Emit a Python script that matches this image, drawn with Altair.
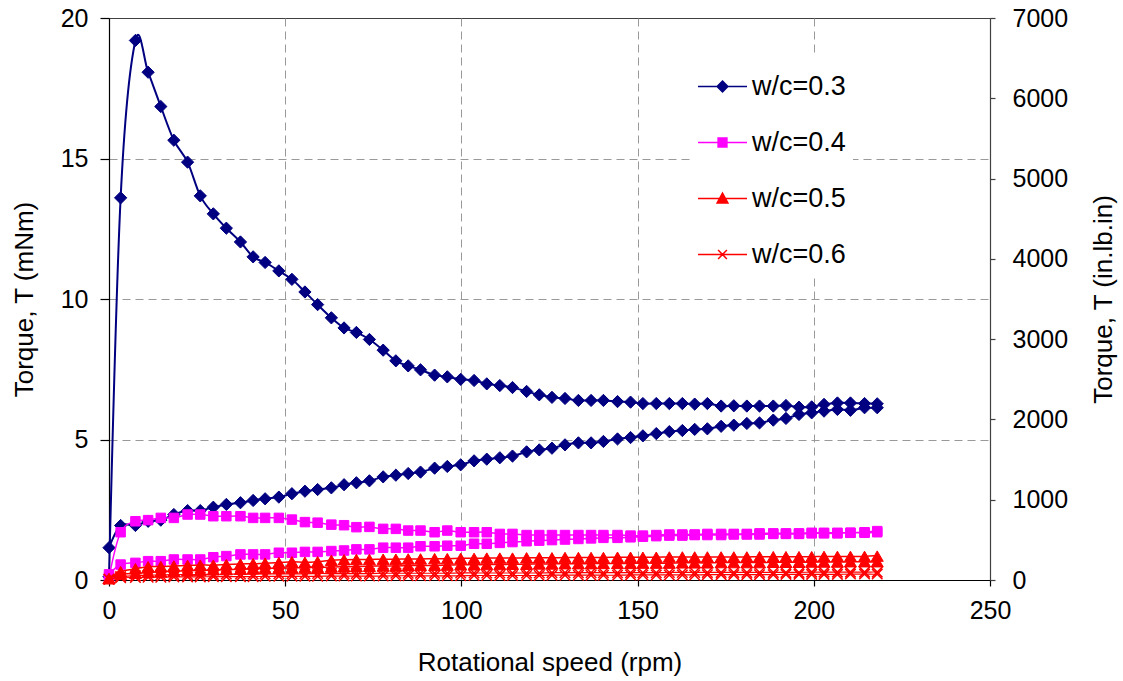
import altair as alt
import pandas as pd

# ---------------- data ----------------
speeds = [0, 3.3, 7.5, 11.1, 14.7, 18.4, 22.3, 25.9, 29.6, 33.3,
          37.3, 40.9, 44.3, 48.2, 51.9, 55.6, 59.2, 63.1, 66.7, 70.2,
          73.9, 77.8, 81.4, 84.9, 88.4, 92.4, 96.0, 99.8, 103.6, 107.2,
          110.9, 114.5, 118.5, 122.1, 125.7, 129.4, 133.2, 136.8, 140.3, 144.3,
          148.0, 151.5, 155.3, 159.0, 162.7, 166.2, 169.8, 173.7, 177.3, 181.0,
          184.6, 188.5, 192.1, 195.8, 199.4, 202.9, 206.7, 210.4, 214.4, 218.0]

# ascending-speed branch (first part of each loop)
wc03_up = [0.12, 13.6, 19.2, 18.07, 16.85, 15.65, 14.87, 13.67, 13.03, 12.52,
           12.03, 11.5, 11.3, 11.0, 10.7, 10.25, 9.8, 9.33, 8.97, 8.81,
           8.56, 8.18, 7.80, 7.62, 7.48, 7.29, 7.23, 7.14, 7.10, 6.98,
           6.92, 6.85, 6.71, 6.59, 6.50, 6.46, 6.39, 6.39, 6.39, 6.35,
           6.33, 6.28, 6.28, 6.28, 6.28, 6.26, 6.28, 6.19, 6.20, 6.19,
           6.19, 6.19, 6.21, 6.15, 6.16, 6.25, 6.30, 6.30, 6.28, 6.27]
# descending-speed branch, listed here in ascending speed order
wc03_down = [1.15, 1.94, 1.94, 2.09, 2.13, 2.33, 2.47, 2.47, 2.59, 2.69,
             2.75, 2.83, 2.89, 2.95, 3.07, 3.16, 3.22, 3.28, 3.39, 3.46,
             3.53, 3.67, 3.73, 3.79, 3.84, 3.98, 4.04, 4.10, 4.24, 4.30,
             4.35, 4.41, 4.56, 4.63, 4.69, 4.81, 4.88, 4.88, 4.93, 5.02,
             5.07, 5.13, 5.21, 5.28, 5.32, 5.36, 5.38, 5.47, 5.51, 5.57,
             5.59, 5.69, 5.75, 5.89, 5.95, 6.01, 6.07, 6.04, 6.13, 6.13]

wc04_up = [0.10, 1.70, 2.09, 2.13, 2.21, 2.21, 2.33, 2.33, 2.27, 2.27,
           2.27, 2.21, 2.21, 2.21, 2.15, 2.06, 2.04, 1.97, 1.95, 1.88,
           1.89, 1.82, 1.82, 1.76, 1.76, 1.70, 1.76, 1.70, 1.70, 1.70,
           1.64, 1.64, 1.60, 1.60, 1.60, 1.60, 1.60, 1.60, 1.60, 1.60,
           1.58, 1.58, 1.60, 1.62, 1.62, 1.62, 1.64, 1.64, 1.64, 1.64,
           1.66, 1.66, 1.66, 1.66, 1.68, 1.68, 1.68, 1.68, 1.70, 1.74]
wc04_down = [0.20, 0.55, 0.61, 0.67, 0.67, 0.73, 0.73, 0.73, 0.81, 0.85,
             0.91, 0.91, 0.91, 0.97, 0.97, 1.00, 1.00, 1.03, 1.05, 1.09,
             1.09, 1.15, 1.15, 1.15, 1.20, 1.20, 1.22, 1.22, 1.29, 1.29,
             1.32, 1.35, 1.38, 1.40, 1.42, 1.44, 1.46, 1.48, 1.50, 1.50,
             1.52, 1.54, 1.56, 1.58, 1.58, 1.60, 1.60, 1.60, 1.62, 1.62,
             1.62, 1.64, 1.64, 1.64, 1.66, 1.66, 1.66, 1.68, 1.68, 1.70]

wc05_up = [0.05, 0.30, 0.40, 0.47, 0.48, 0.50, 0.52, 0.53, 0.53, 0.55,
           0.57, 0.58, 0.60, 0.62, 0.65, 0.63, 0.65, 0.70, 0.72, 0.73,
           0.73, 0.74, 0.74, 0.75, 0.75, 0.76, 0.76, 0.77, 0.77, 0.78,
           0.78, 0.78, 0.79, 0.79, 0.79, 0.80, 0.80, 0.80, 0.80, 0.81,
           0.81, 0.81, 0.81, 0.82, 0.82, 0.82, 0.82, 0.82, 0.82, 0.82,
           0.83, 0.83, 0.83, 0.83, 0.83, 0.84, 0.84, 0.84, 0.84, 0.85]
wc05_down = [0.05, 0.20, 0.24, 0.27, 0.29, 0.31, 0.33, 0.34, 0.36, 0.37,
             0.38, 0.40, 0.41, 0.42, 0.43, 0.44, 0.45, 0.46, 0.47, 0.48,
             0.49, 0.50, 0.50, 0.51, 0.52, 0.52, 0.53, 0.54, 0.54, 0.55,
             0.55, 0.56, 0.56, 0.57, 0.57, 0.58, 0.58, 0.58, 0.59, 0.59,
             0.59, 0.60, 0.60, 0.60, 0.61, 0.61, 0.61, 0.62, 0.62, 0.62,
             0.62, 0.63, 0.63, 0.63, 0.64, 0.64, 0.64, 0.65, 0.65, 0.65]

wc06_up = [0.03, 0.12, 0.15, 0.17, 0.18, 0.19, 0.19, 0.20, 0.20, 0.21,
           0.21, 0.21, 0.22, 0.22, 0.22, 0.22, 0.23, 0.23, 0.23, 0.23,
           0.23, 0.24, 0.24, 0.24, 0.24, 0.24, 0.24, 0.25, 0.25, 0.25,
           0.25, 0.25, 0.25, 0.25, 0.26, 0.26, 0.26, 0.26, 0.26, 0.26,
           0.26, 0.26, 0.26, 0.27, 0.27, 0.27, 0.27, 0.27, 0.27, 0.27,
           0.27, 0.27, 0.27, 0.27, 0.28, 0.28, 0.28, 0.28, 0.28, 0.28]
wc06_down = [0.03, 0.08, 0.09, 0.10, 0.10, 0.11, 0.11, 0.11, 0.12, 0.12,
             0.12, 0.12, 0.13, 0.13, 0.13, 0.13, 0.13, 0.14, 0.14, 0.14,
             0.14, 0.14, 0.15, 0.15, 0.15, 0.15, 0.15, 0.15, 0.16, 0.16,
             0.16, 0.16, 0.16, 0.16, 0.17, 0.17, 0.17, 0.17, 0.17, 0.17,
             0.18, 0.18, 0.18, 0.18, 0.18, 0.18, 0.19, 0.19, 0.19, 0.19,
             0.19, 0.19, 0.20, 0.20, 0.20, 0.20, 0.20, 0.21, 0.21, 0.21]

series_names = ["w/c=0.3", "w/c=0.4", "w/c=0.5", "w/c=0.6"]
series_up = [wc03_up, wc04_up, wc05_up, wc06_up]
series_down = [wc03_down, wc04_down, wc05_down, wc06_down]
colors = ["#000080", "#FF00FF", "#FF0000", "#FF0000"]

x_ticks = [0, 50, 100, 150, 200, 250]
left_ticks = [0, 5, 10, 15, 20]
right_ticks = [0, 1000, 2000, 3000, 4000, 5000, 6000, 7000]

# ---------------- build table: each loop goes up then back down ----------------
rows = []
for name, up, down in zip(series_names, series_up, series_down):
    path = list(zip(speeds, up)) + list(zip(speeds[::-1], down[::-1]))
    for i, (s, t) in enumerate(path):
        rows.append({"series": name, "i": i, "speed": s, "torque": t})
df = pd.DataFrame(rows)

FONT = "Liberation Sans"

x_enc = alt.X("speed:Q",
              scale=alt.Scale(domain=[0, 250], nice=False, zero=False),
              axis=alt.Axis(values=x_ticks, title="Rotational speed (rpm)",
                            tickSize=6, labelPadding=12, titlePadding=26,
                            gridOpacity={"condition": {"test": "datum.value == 0 || datum.value == 250", "value": 0}, "value": 1}))
y_enc = alt.Y("torque:Q",
              scale=alt.Scale(domain=[0, 20], nice=False),
              axis=alt.Axis(values=left_ticks, title="Torque, T (mNm)",
                            tickSize=9, labelPadding=12, titlePadding=23,
                            gridOpacity={"condition": {"test": "datum.value == 0 || datum.value == 20", "value": 0}, "value": 1}))

marker_shapes = ["diamond", "square", "triangle-up", "M-1,-1L1,1M-1,1L1,-1"]
marker_sizes = [150, 90, 145, 110]
marker_filled = [True, True, True, False]
line_widths = [2, 1.5, 1.5, 1.2]

layers = []
for name, col, shp, sz, fl, lw in zip(series_names, colors, marker_shapes,
                                       marker_sizes, marker_filled, line_widths):
    base = alt.Chart(df).transform_filter(alt.datum.series == name)
    line = base.mark_line(interpolate="cardinal", color=col, strokeWidth=lw).encode(
        x=x_enc, y=y_enc, order="i:Q")
    if fl:
        pts = base.mark_point(shape=shp, size=sz, filled=True, fill=col, stroke=col,
                              strokeWidth=1, opacity=1)
    else:
        pts = base.mark_point(shape=shp, size=sz, filled=False, stroke=col,
                              strokeWidth=1.5, opacity=1)
    pts = pts.encode(x=x_enc, y=y_enc)
    layers += [line, pts]

# legend: line through marker symbols
legend_paths = [
    "M-1,0H1M0,-0.22L0.22,0L0,0.22L-0.22,0Z",
    "M-1,0H1M-0.18,-0.18H0.18V0.18H-0.18Z",
    "M-1,0H1M0,-0.22L0.22,0.18L-0.22,0.18Z",
    "M-1,0H1M-0.18,-0.18L0.18,0.18M-0.18,0.18L0.18,-0.18",
]
leg_cfg = alt.Legend(title=None, orient="none", legendX=582, legendY=37,
                     direction="vertical", symbolSize=2401, symbolStrokeWidth=1.5,
                     labelFontSize=27, labelFont=FONT, labelColor="black",
                     labelOffset=4, rowPadding=17, padding=6,
                     fillColor="white", strokeColor="white")
legend_layer = alt.Chart(pd.DataFrame({"series": series_names})).mark_point(
    filled=True, opacity=1).encode(
    shape=alt.Shape("series:N", scale=alt.Scale(domain=series_names, range=legend_paths), legend=leg_cfg),
    fill=alt.Fill("series:N", scale=alt.Scale(domain=series_names, range=colors), legend=leg_cfg),
    stroke=alt.Stroke("series:N", scale=alt.Scale(domain=series_names, range=colors), legend=leg_cfg),
).transform_filter("false")

inner = alt.layer(*layers, legend_layer)

right = alt.Chart(pd.DataFrame({"v": right_ticks})).mark_text(text="").encode(
    y=alt.Y("v:Q", scale=alt.Scale(domain=[0, 7000], nice=False),
            axis=alt.Axis(orient="right", values=right_ticks, format="d",
                          title="Torque, T (in.lb.in)",
                          grid=False, tickSize=5, labelPadding=17,
                          titleAngle=270, titleX=113, titleY=281,
                          titleAlign="center", titleBaseline="middle",
                          domainColor="#404040", tickColor="#404040")))

chart = alt.layer(inner, right).resolve_scale(y="independent").properties(
    width=881, height=562, autosize="none",
    padding={"left": 109, "top": 18, "right": 133, "bottom": 101},
    background="white",
).configure_view(stroke="#404040", strokeWidth=1).configure_axis(
    labelFont=FONT, titleFont=FONT, labelFontSize=25, titleFontSize=26,
    titleFontWeight="normal", labelColor="black", titleColor="black",
    domainColor="black", tickColor="black", domainWidth=1.2, tickWidth=1.2,
    gridColor="#999999", gridDash=[8, 5], gridWidth=1,
    labelFlush=False, labelOverlap=False,
)

chart.save("out.html", embed_options={"renderer": "svg", "actions": False})
